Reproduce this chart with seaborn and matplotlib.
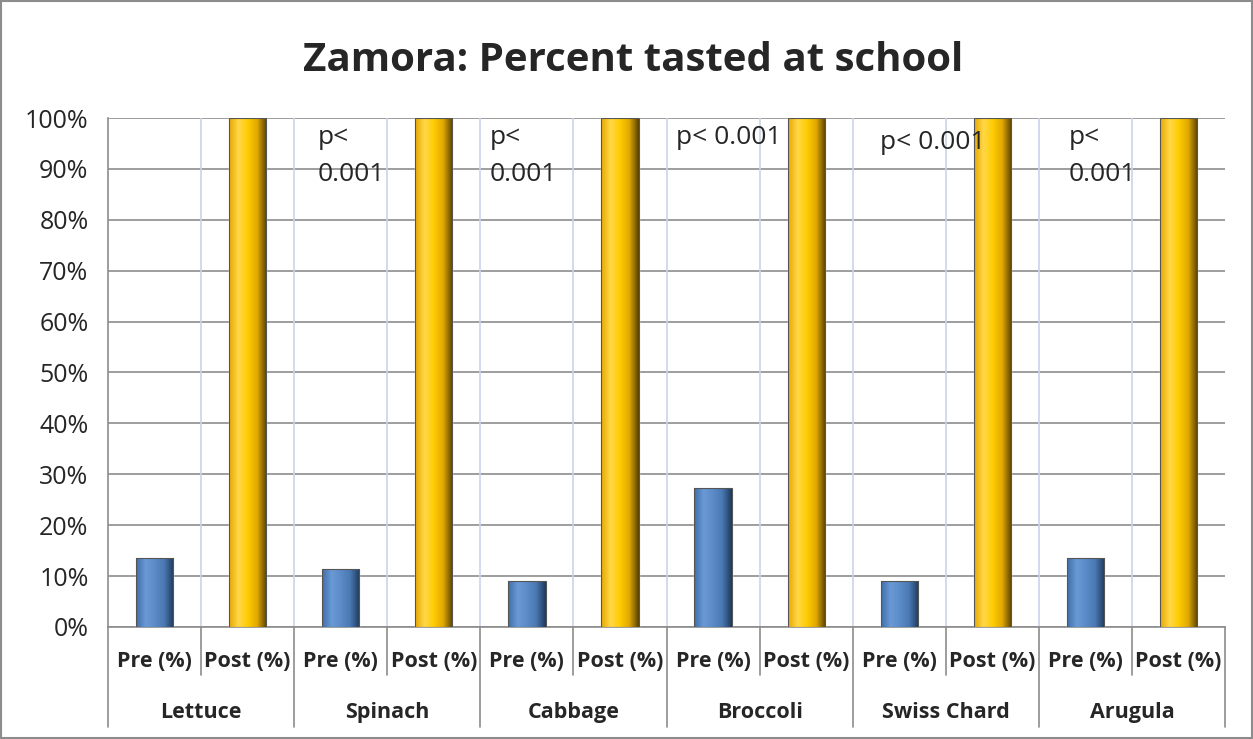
import numpy as np
import pandas as pd
import matplotlib
matplotlib.use("Agg")
import matplotlib.pyplot as plt
import seaborn as sns
from matplotlib.patches import Rectangle
from matplotlib.colors import LinearSegmentedColormap

# --- data ---
vegetables = ["Lettuce", "Spinach", "Cabbage", "Broccoli", "Swiss Chard", "Arugula"]
phases = ["Pre (%)", "Post (%)"]
pre_values = [13.6, 11.4, 9.1, 27.3, 9.1, 13.6]
post_values = [100, 100, 100, 100, 100, 100]
p_labels = ["", "p<\n0.001", "p<\n0.001", "p< 0.001", "p< 0.001", "p<\n0.001"]

rows = []
for veg, pre, post in zip(vegetables, pre_values, post_values):
    rows.append({"slot": veg + " pre", "phase": phases[0], "value": pre})
    rows.append({"slot": veg + " post", "phase": phases[1], "value": post})
df = pd.DataFrame(rows)

sns.set_style("white")
plt.rcParams["font.family"] = ["Open Sans", "DejaVu Sans"]

fig = plt.figure(figsize=(12.53, 7.39), dpi=100)
ax = fig.add_axes([0.0862, 0.1516, 0.8915, 0.6887])

blue, gold = "#4F81BD", "#FFC000"
palette = {phases[0]: blue, phases[1]: gold}
sns.barplot(data=df, x="slot", y="value", hue="phase", palette=palette,
            dodge=False, width=0.4, saturation=1, legend=False, ax=ax, zorder=3)

# shaded, bevelled look on each bar
blue_cmap = LinearSegmentedColormap.from_list(
    "b", ["#3f6ea8", "#6a9ad6", "#5b8bc8", "#4a78b2", "#1f3a5c"])
gold_cmap = LinearSegmentedColormap.from_list(
    "g", ["#e8a800", "#ffd84a", "#ffcc00", "#e0a800", "#5a4200"])
grad = np.linspace(0, 1, 64).reshape(1, -1)
for patch in list(ax.patches):
    x0, y0 = patch.get_x(), patch.get_y()
    w, h = patch.get_width(), patch.get_height()
    if h <= 0:
        continue
    slot = int(round(x0 + w / 2))
    cmap = blue_cmap if df.loc[slot, "phase"] == phases[0] else gold_cmap
    im = ax.imshow(grad, extent=[x0, x0 + w, y0, y0 + h], aspect="auto",
                   cmap=cmap, zorder=4)
    im.set_clip_path(patch)
    ax.add_patch(Rectangle((x0, y0), w, h, fill=False, lw=0.8,
                           edgecolor="#555555", zorder=5))

ax.set_xlim(-0.5, len(df) - 0.5)
ax.set_ylim(0, 100)
ax.set_yticks(np.arange(0, 101, 10))
ax.set_yticklabels([f"{v}%" for v in range(0, 101, 10)], fontsize=18)
ax.tick_params(axis="y", length=6, color="#888888", pad=8)
ax.yaxis.grid(True, color="#8c8c8c", lw=1.2, zorder=0)

# vertical light gridlines between slots
for k in range(1, len(df)):
    ax.axvline(k - 0.5, color="#c8d4ea", lw=1.2, zorder=1)

ax.set_xticks([])
ax.set_xlabel("")
ax.set_ylabel("")
for side in ["top", "right"]:
    ax.spines[side].set_visible(False)
for side in ["left", "bottom"]:
    ax.spines[side].set_color("#8c8c8c")
    ax.spines[side].set_linewidth(1.2)

# two-level category axis
trans = ax.get_xaxis_transform()
for k in range(len(df) + 1):
    depth = -0.196 if k % 2 == 0 else -0.094
    ax.plot([k - 0.5, k - 0.5], [0, depth], transform=trans, color="#8c8c8c",
            lw=1.2, clip_on=False)
for k, row in df.iterrows():
    ax.text(k, -0.068, row["phase"], transform=trans, ha="center", va="center",
            fontsize=15.5, fontweight="bold")
for i, veg in enumerate(vegetables):
    ax.text(2 * i + 0.5, -0.168, veg, transform=trans, ha="center", va="center",
            fontsize=15.5, fontweight="bold")

# p-value notes
p_pos = [(0, 0), (1.75, 98.7), (3.6, 98.7), (5.6, 98.7), (7.79, 97.7), (9.82, 98.7)]
for lab, (px, py) in zip(p_labels, p_pos):
    if lab:
        ax.text(px, py, lab, ha="left", va="top", fontsize=19, linespacing=1.65,
                zorder=6)

fig.suptitle("Zamora: Percent tasted at school", x=0.505, y=0.945,
             fontsize=29, fontweight="bold")

fig.patches.append(Rectangle((0.001, 0.001), 0.998, 0.998, transform=fig.transFigure,
                             fill=False, edgecolor="#8c8c8c", lw=1.5))

fig.savefig("out.png", dpi=100)
